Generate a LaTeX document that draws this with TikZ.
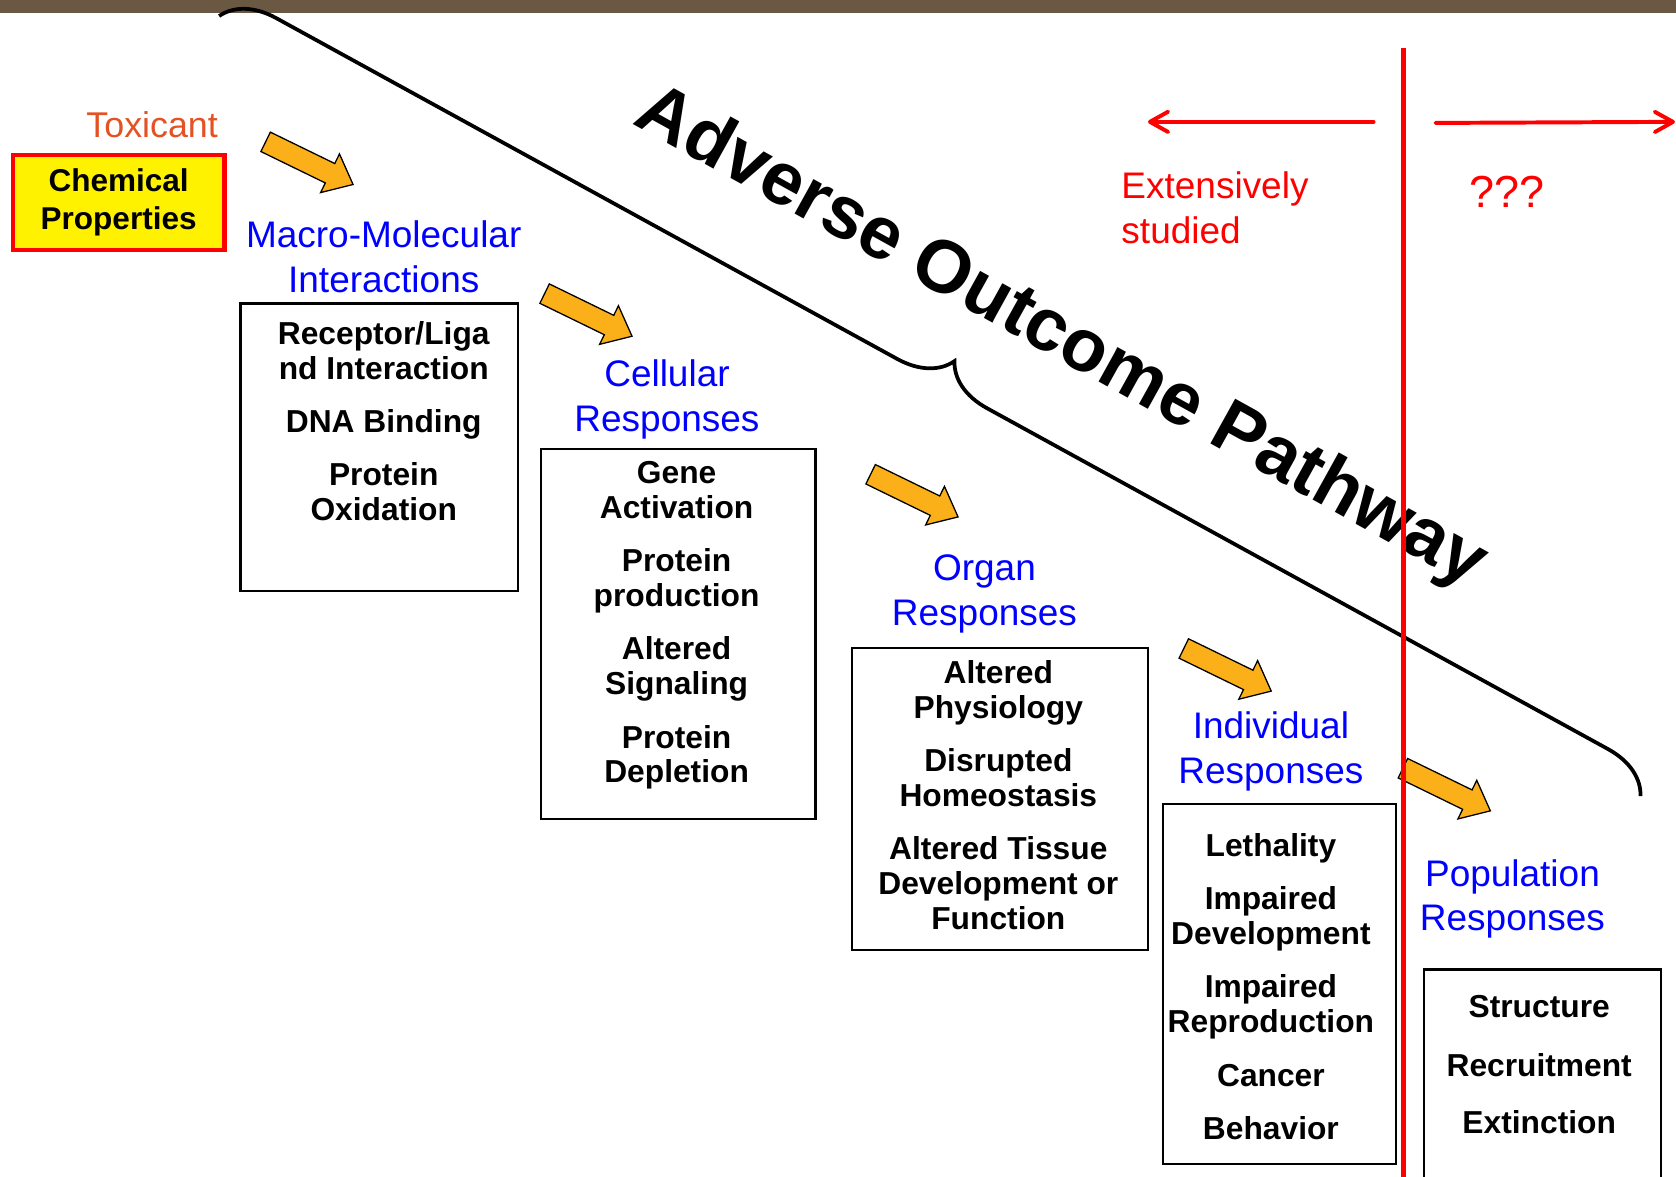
\documentclass[tikz,border=0pt]{standalone}
\usepackage{fontspec}
\setmainfont{Liberation Sans}
\usetikzlibrary{arrows.meta,decorations.pathreplacing,shapes.arrows}
\definecolor{BarBrown}{RGB}{106,88,66}
\definecolor{ToxOrange}{RGB}{228,82,36}
\definecolor{StepOrange}{RGB}{251,176,26}

\begin{document}
\begin{tikzpicture}[x=1pt, y=-1pt,
    stage/.style={text=blue, font=\fontsize{34.6}{42}\selectfont, align=center, inner sep=0pt},
    listbox/.style={draw, line width=2pt, anchor=north west, inner sep=0pt},
    listtext/.style={font=\bfseries\fontsize{29.7}{32.5}\selectfont, align=center, inner sep=0pt},
    steparrow/.style={single arrow, draw=black, line width=1.2pt, fill=StepOrange,
        minimum height=91pt, inner xsep=0pt, inner ysep=9.5pt, single arrow head extend=10pt,
        single arrow tip angle=80, rotate=-26},
    redarrow/.style={red, line width=3.7pt, line cap=round, -{Straight Barb[length=17pt, width=19pt, round]}}]
    \useasboundingbox (0,0) rectangle (1568,1101);
    \fill [BarBrown] (0,0) rectangle (1568,12);% Top bar

    \coordinate (BraceStart) at (205,15);
    \coordinate (BraceEnd)   at (1535,745);
    \coordinate (SplitTop)   at (1313,45);
    \coordinate (SplitBot)   at (1313,1101);
    \coordinate (PastFrom)   at (1285,114);
    \coordinate (PastTo)     at (1074,114);
    \coordinate (FutureFrom) at (1343,115);
    \coordinate (FutureTo)   at (1567,114);

    % Brace and title
    \draw [line width=3.5pt, decorate, decoration={brace, amplitude=48pt}] (BraceStart) -- (BraceEnd);
    \node [anchor=base west, rotate=-29, inner sep=0pt, font=\bfseries\fontsize{69.6}{80}\selectfont] (AopTitle) at (591,115) {Adverse Outcome Pathway};

    % Start
    \node [text=ToxOrange, anchor=east, inner sep=0pt, font=\fontsize{33.5}{40}\selectfont] (Toxicant) at (204,117) {Toxicant};
    \node [draw=red, line width=4pt, fill=yellow, minimum width=198pt, minimum height=89pt, inner sep=0pt,
        align=center, font=\bfseries\fontsize{29.5}{36}\selectfont] (ChemBox) at (111,189.5) {Chemical\\Properties};

    % Steps
    \node [steparrow] (Arr1) at (284,150) {};
    \node [steparrow] (Arr2) at (545,292) {};
    \node [steparrow] (Arr3) at (850,461) {};
    \node [steparrow] (Arr4) at (1143,624) {};
    \node [steparrow] (Arr5) at (1348,736) {};

    \node [stage] (MacroLbl) at (359,240) {Macro-Molecular\\Interactions};
    \node [stage] (CellLbl)  at (624,374) {Cellular\\Responses};
    \node [stage] (OrganLbl) at (921,556) {Organ\\Responses};
    \node [stage] (IndivLbl) at (1189,703) {Individual\\Responses};
    \node [stage] (PopLbl)   at (1415,841) {Population\\Responses};

    \node [listbox, minimum width=260pt, minimum height=269pt] (MacroBox) at (224,283) {};
    \node [listtext] (MacroList) at (359,394) {Receptor/Liga\\nd Interaction\\[17.5pt]DNA Binding\\[17.5pt]Protein\\Oxidation};
    \node [listbox, minimum width=257pt, minimum height=346pt] (CellBox) at (505,419) {};
    \node [listtext] (CellList) at (633,585) {Gene\\Activation\\[17.5pt]Protein\\production\\[17.5pt]Altered\\Signaling\\[17.5pt]Protein\\Depletion};
    \node [listbox, minimum width=277pt, minimum height=283pt] (OrganBox) at (796,605) {};
    \node [listtext] (OrganList) at (934,744) {Altered\\Physiology\\[17pt]Disrupted\\Homeostasis\\[17.5pt]Altered Tissue\\Development or\\Function};
    \node [listbox, minimum width=218pt, minimum height=337pt] (IndivBox) at (1087,751) {};
    \node [listtext] (IndivList) at (1189,923) {Lethality\\[17.5pt]Impaired\\Development\\[17pt]Impaired\\Reproduction\\[18pt]Cancer\\[17.5pt]Behavior};
    \node [listbox, minimum width=222pt, minimum height=260pt] (PopBox) at (1331,906) {};
    \node [listtext] (PopList) at (1440,996) {Structure\\[22pt]Recruitment\\[21pt]Extinction};

    % Split between known and unknown
    \draw [red, line width=4pt] (SplitTop) -- (SplitBot);
    \draw [redarrow] (PastFrom) -- (PastTo);
    \draw [redarrow] (FutureFrom) -- (FutureTo);
    \node [text=red, anchor=west, align=left, inner sep=0pt, font=\fontsize{34.6}{42}\selectfont] (Studied) at (1049,194) {Extensively\\studied};
    \node [text=red, inner sep=0pt, font=\fontsize{42}{50}\selectfont] (Unknown) at (1410,179) {???};
\end{tikzpicture}
\end{document}
